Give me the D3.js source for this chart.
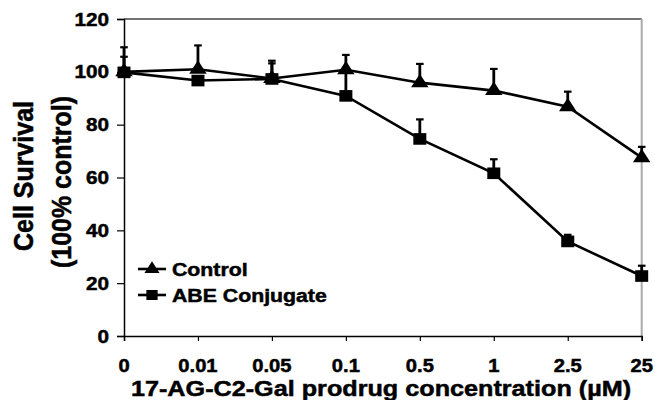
<!DOCTYPE html>
<html>
<head>
<meta charset="utf-8">
<script src="https://cdn.jsdelivr.net/npm/d3@7"></script>
<style>
  body { margin: 0; background: #fff; }
  text { font-family: "Liberation Sans", Arial, sans-serif; font-weight: bold; fill: #000; stroke: #000; stroke-width: 0.5px; }
</style>
</head>
<body>
<div id="chart"></div>
<script>
// DATA

var concentrations = ["0", "0.01", "0.05", "0.1", "0.5", "1", "2.5", "25"];
var control = [100, 101, 97.5, 100.8, 95.9, 92.9, 86.8, 67.5];
var controlErr = [9.3, 9, 6.7, 5.6, 7.1, 8.2, 5.7, 4.1];
var abe = [99.8, 96.7, 97.3, 90.9, 74.6, 61.6, 35.8, 22.7];
var abeErr = [5.9, 1, 5.9, 9.5, 7.4, 5.3, 2.5, 3.9];
var yTicks = [0, 20, 40, 60, 80, 100, 120];
var seriesNames = ["Control", "ABE Conjugate"];

// the source picture is stretched a little sideways, so text gets a small x scale
var sx = 1.12;

var width = 655;
var height = 400;

var x = d3.scalePoint()
    .domain(concentrations)
    .range([124, 641.7])
    .padding(0);

var y = d3.scaleLinear()
    .domain([0, 120])
    .range([336, 19]);

var svg = d3.select("#chart")
    .append("svg")
    .attr("width", width)
    .attr("height", height);

// frame: top and right borders
svg.append("line")
    .attr("x1", x.range()[0]).attr("x2", x.range()[1])
    .attr("y1", y(120)).attr("y2", y(120))
    .attr("stroke", "#444").attr("stroke-width", 1.5);
svg.append("line")
    .attr("x1", x.range()[1]).attr("x2", x.range()[1])
    .attr("y1", y(120)).attr("y2", y(0))
    .attr("stroke", "#aaa").attr("stroke-width", 2);

// axes
svg.append("g")
    .attr("transform", "translate(124,0)")
    .call(d3.axisLeft(y).tickValues(yTicks).tickSize(7).tickFormat(""));
svg.append("g")
    .attr("transform", "translate(0,336)")
    .call(d3.axisBottom(x).tickSize(5).tickFormat(""));

svg.selectAll(".domain").attr("stroke", "#000").attr("stroke-width", 1.5);
svg.selectAll(".tick line").attr("stroke", "#000").attr("stroke-width", 1.2);

// tick labels
svg.selectAll("text.ylab")
    .data(yTicks)
    .enter()
    .append("text")
    .attr("class", "ylab")
    .attr("transform", function (d) { return "translate(109," + (y(d) + 6.5) + ") scale(" + sx + ",1)"; })
    .attr("text-anchor", "end")
    .style("font-size", "18.5px")
    .text(function (d) { return d; });

svg.selectAll("text.xlab")
    .data(concentrations)
    .enter()
    .append("text")
    .attr("class", "xlab")
    .attr("transform", function (d) { return "translate(" + x(d) + ",372) scale(" + sx + ",1)"; })
    .attr("text-anchor", "middle")
    .style("font-size", "18px")
    .text(function (d) { return d; });

// axis titles
svg.append("text")
    .attr("transform", "translate(381,396) scale(" + sx + ",1)")
    .attr("text-anchor", "middle")
    .style("font-size", "22.5px")
    .text("17-AG-C2-Gal prodrug concentration (\u00b5M)");

svg.append("text")
    .attr("transform", "translate(33,176) scale(" + sx + ",1) rotate(-90)")
    .attr("text-anchor", "middle")
    .style("font-size", "25px")
    .text("Cell Survival");
svg.append("text")
    .attr("transform", "translate(71,182) scale(" + sx + ",1) rotate(-90)")
    .attr("text-anchor", "middle")
    .style("font-size", "25px")
    .text("(100% control)");

// series
var series = [
    { name: seriesNames[0], values: control, errs: controlErr, shape: d3.symbolTriangle, size: 105 },
    { name: seriesNames[1], values: abe, errs: abeErr, shape: d3.symbolSquare, size: 135 }
];

var line = d3.line()
    .x(function (d, i) { return x(concentrations[i]); })
    .y(function (d) { return y(d); });

series.forEach(function (s) {
    var g = svg.append("g");

    // error bars (upper only)
    s.values.forEach(function (v, i) {
        var cx = x(concentrations[i]);
        var top = y(v + s.errs[i]);
        g.append("line")
            .attr("x1", cx).attr("x2", cx)
            .attr("y1", y(v)).attr("y2", top)
            .attr("stroke", "#000").attr("stroke-width", 2.8);
        g.append("line")
            .attr("x1", cx - 3.8).attr("x2", cx + 3.8)
            .attr("y1", top).attr("y2", top)
            .attr("stroke", "#000").attr("stroke-width", 2.2);
    });

    g.append("path")
        .datum(s.values)
        .attr("d", line)
        .attr("fill", "none")
        .attr("stroke", "#000")
        .attr("stroke-width", 2.6);

    g.selectAll("path.pt")
        .data(s.values)
        .enter()
        .append("path")
        .attr("class", "pt")
        .attr("d", d3.symbol().type(s.shape).size(s.size))
        .attr("transform", function (d, i) {
            return "translate(" + x(concentrations[i]) + "," + y(d) + ") scale(1.12,1)";
        })
        .attr("fill", "#000");
});

// legend
series.forEach(function (s, i) {
    var ly = 269 + i * 26;
    svg.append("line")
        .attr("x1", 138).attr("x2", 166)
        .attr("y1", ly).attr("y2", ly)
        .attr("stroke", "#000").attr("stroke-width", 2.6);
    svg.append("path")
        .attr("d", d3.symbol().type(s.shape).size(s.size * 0.75))
        .attr("transform", "translate(152," + ly + ") scale(1.12,1)")
        .attr("fill", "#000");
    svg.append("text")
        .attr("transform", "translate(172," + (ly + 7) + ") scale(" + sx + ",1)")
        .style("font-size", "19px")
        .text(s.name);
});
</script>
</body>
</html>
